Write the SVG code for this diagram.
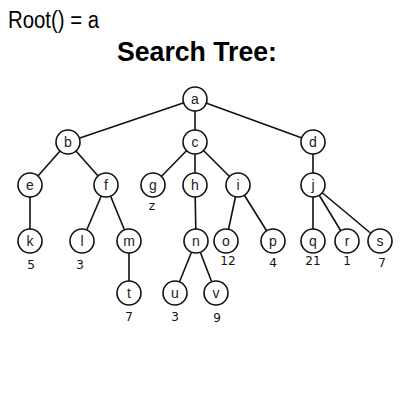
<svg xmlns="http://www.w3.org/2000/svg" width="400" height="400" viewBox="0 0 400 400">
<style>
.n circle{fill:#fff;stroke:#111;stroke-width:1.6}
.n text{font-family:"Liberation Sans",Arial,sans-serif;font-size:14px;fill:#222;text-anchor:middle}
#edges line{stroke:#111;stroke-width:1.6}
.w{font-family:"DejaVu Sans","Liberation Sans",sans-serif;font-size:12px;fill:#111;text-anchor:middle}
.t{font-family:"Liberation Sans",Arial,sans-serif;fill:#000}
</style>
<rect width="400" height="400" fill="#fff"/>
<text class="t" x="8" y="28" font-size="23" textLength="91" lengthAdjust="spacingAndGlyphs">Root() = a</text>
<text class="t" x="117" y="61" font-size="27" font-weight="bold" textLength="160" lengthAdjust="spacingAndGlyphs">Search Tree:</text>
<g id="edges">
<line x1="195" y1="99" x2="68" y2="142"/>
<line x1="195" y1="99" x2="195" y2="142"/>
<line x1="195" y1="99" x2="313" y2="142"/>
<line x1="68" y1="142" x2="30" y2="185"/>
<line x1="68" y1="142" x2="106" y2="185"/>
<line x1="195" y1="142" x2="153" y2="185"/>
<line x1="195" y1="142" x2="195" y2="185"/>
<line x1="195" y1="142" x2="238" y2="185"/>
<line x1="313" y1="142" x2="313" y2="185"/>
<line x1="30" y1="185" x2="30" y2="241"/>
<line x1="106" y1="185" x2="82" y2="241"/>
<line x1="106" y1="185" x2="129" y2="241"/>
<line x1="195" y1="185" x2="196" y2="241"/>
<line x1="238" y1="185" x2="226" y2="241"/>
<line x1="238" y1="185" x2="273" y2="241"/>
<line x1="313" y1="185" x2="313" y2="241"/>
<line x1="313" y1="185" x2="347" y2="241"/>
<line x1="313" y1="185" x2="380" y2="241"/>
<line x1="129" y1="241" x2="129" y2="293"/>
<line x1="196" y1="241" x2="175" y2="293"/>
<line x1="196" y1="241" x2="216" y2="293"/>
</g>
<g id="a" class="n"><circle cx="195" cy="99" r="12"/><text x="195" y="104">a</text></g>
<g id="b" class="n"><circle cx="68" cy="142" r="12"/><text x="68" y="147">b</text></g>
<g id="c" class="n"><circle cx="195" cy="142" r="12"/><text x="195" y="147">c</text></g>
<g id="d" class="n"><circle cx="313" cy="142" r="12"/><text x="313" y="147">d</text></g>
<g id="e" class="n"><circle cx="30" cy="185" r="12"/><text x="30" y="190">e</text></g>
<g id="f" class="n"><circle cx="106" cy="185" r="12"/><text x="106" y="190">f</text></g>
<g id="g" class="n"><circle cx="153" cy="185" r="12"/><text x="153" y="190">g</text></g>
<g id="h" class="n"><circle cx="195" cy="185" r="12"/><text x="195" y="190">h</text></g>
<g id="i" class="n"><circle cx="238" cy="185" r="12"/><text x="238" y="190">i</text></g>
<g id="j" class="n"><circle cx="313" cy="185" r="12"/><text x="313" y="190">j</text></g>
<g id="k" class="n"><circle cx="30" cy="241" r="12"/><text x="30" y="246">k</text></g>
<g id="l" class="n"><circle cx="82" cy="241" r="12"/><text x="82" y="246">l</text></g>
<g id="m" class="n"><circle cx="129" cy="241" r="12"/><text x="129" y="246">m</text></g>
<g id="n" class="n"><circle cx="196" cy="241" r="12"/><text x="196" y="246">n</text></g>
<g id="o" class="n"><circle cx="226" cy="241" r="12"/><text x="226" y="246">o</text></g>
<g id="p" class="n"><circle cx="273" cy="241" r="12"/><text x="273" y="246">p</text></g>
<g id="q" class="n"><circle cx="313" cy="241" r="12"/><text x="313" y="246">q</text></g>
<g id="r" class="n"><circle cx="347" cy="241" r="12"/><text x="347" y="246">r</text></g>
<g id="s" class="n"><circle cx="380" cy="241" r="12"/><text x="380" y="246">s</text></g>
<g id="t" class="n"><circle cx="129" cy="293" r="12"/><text x="129" y="298">t</text></g>
<g id="u" class="n"><circle cx="175" cy="293" r="12"/><text x="175" y="298">u</text></g>
<g id="v" class="n"><circle cx="216" cy="293" r="12"/><text x="216" y="298">v</text></g>
<g id="values">
<text class="w" x="152" y="210">z</text>
<text class="w" x="31" y="269">5</text>
<text class="w" x="80" y="269">3</text>
<text class="w" x="228" y="265">12</text>
<text class="w" x="273" y="267">4</text>
<text class="w" x="313" y="265">21</text>
<text class="w" x="347" y="265">1</text>
<text class="w" x="382" y="267">7</text>
<text class="w" x="129" y="321">7</text>
<text class="w" x="175" y="321">3</text>
<text class="w" x="217" y="322">9</text>
</g>
</svg>
